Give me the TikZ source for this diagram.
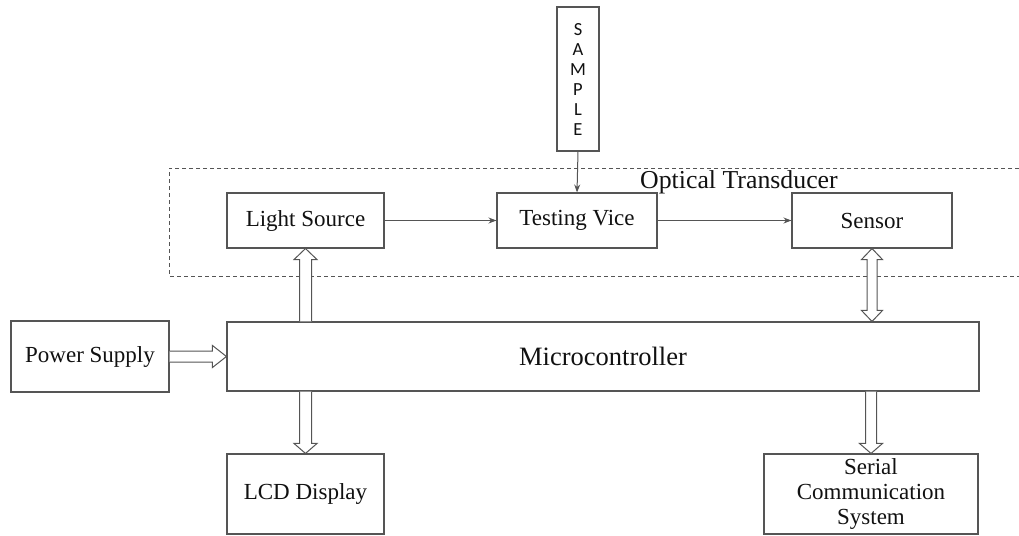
\documentclass[tikz,border=0pt]{standalone}
\usepackage{fontspec}
\setmainfont{Liberation Serif}
\newfontfamily\samplefont{Carlito}
\usetikzlibrary{calc,arrows.meta}
\definecolor{ln}{HTML}{555555}
\definecolor{tx}{HTML}{111111}
\tikzset{
  box/.style={draw=ln, line width=1.1pt, fill=white, inner sep=0pt, align=center, text=tx,
              font=\fontsize{23}{25}\selectfont},
  thin/.style={draw=ln, line width=1pt, -{Stealth[length=8pt,width=6pt]}},
  hollow/.style={draw=ln, line width=1pt, fill=white, line join=miter},
  dashbox/.style={draw=ln, line width=1pt, dash pattern=on 4pt off 3pt}
}
\begin{document}
\begin{tikzpicture}[x=1pt,y=-1pt]
\useasboundingbox (0,0) rectangle (1019,535);
% dashed optical transducer frame (open at right)
\draw[dashbox] (1019,168) -- (169,168) -- (169,276) -- (1019,276);
\node[anchor=base west, inner sep=0pt, text=tx, font=\fontsize{25.8}{28}\selectfont] (ot) at (640,188) {Optical Transducer};

\node[box, minimum width=42, minimum height=144, font=\samplefont\fontsize{18.5}{20}\selectfont] (sample) at (578,79) {S\\A\\M\\P\\L\\E};
\node[box, minimum width=157, minimum height=55] (light) at (305.5,220.5) {Light Source};
\node[box, minimum width=160, minimum height=55] (vice) at (577,220.5) {Testing Vice};
\node[box, minimum width=160, minimum height=55] (sensor) at (872,220.5) {Sensor};
\node[box, minimum width=158, minimum height=71] (power) at (90,356.5) {Power Supply};
\node[box, minimum width=752, minimum height=69, font=\fontsize{26.5}{30}\selectfont] (micro) at (603,356.5) {Microcontroller};
\node[box, minimum width=157, minimum height=80] (lcd) at (305.5,494) {LCD Display};
\node[box, minimum width=214, minimum height=80] (serial) at (871,494) {Serial\\Communication\\System};

% thin arrows
\draw[thin] (sample.south) -- (vice.north);
\draw[thin] (light.east) -- (vice.west);
\draw[thin] (vice.east) -- (sensor.west);

% hollow arrow: micro -> light
\coordinate (a1) at (light.south);
\coordinate (b1) at (a1 |- micro.north);
\draw[hollow] ($(b1)+(-6,0)$) -- ($(a1)+(-6,11)$) -- ($(a1)+(-11.5,11)$) -- (a1)
  -- ($(a1)+(11.5,11)$) -- ($(a1)+(6,11)$) -- ($(b1)+(6,0)$);

% hollow double arrow: sensor <-> micro
\coordinate (a2) at (sensor.south);
\coordinate (b2) at (a2 |- micro.north);
\draw[hollow] (a2) -- ($(a2)+(10.5,11)$) -- ($(a2)+(5,11)$) -- ($(b2)+(5,-11)$) -- ($(b2)+(10.5,-11)$)
  -- (b2) -- ($(b2)+(-10.5,-11)$) -- ($(b2)+(-5,-11)$) -- ($(a2)+(-5,11)$) -- ($(a2)+(-10.5,11)$) -- cycle;

% hollow arrow: power -> micro
\coordinate (a3) at (power.east);
\coordinate (b3) at (micro.west |- a3);
\draw[hollow] ($(a3)+(0,-5.5)$) -- ($(b3)+(-14,-5.5)$) -- ($(b3)+(-14,-11)$) -- (b3)
  -- ($(b3)+(-14,11)$) -- ($(b3)+(-14,5.5)$) -- ($(a3)+(0,5.5)$);

% hollow arrow: micro -> lcd
\coordinate (a4) at (lcd.north);
\coordinate (b4) at (a4 |- micro.south);
\draw[hollow] ($(b4)+(-6,0)$) -- ($(a4)+(-6,-10)$) -- ($(a4)+(-11.5,-10)$) -- (a4)
  -- ($(a4)+(11.5,-10)$) -- ($(a4)+(6,-10)$) -- ($(b4)+(6,0)$);

% hollow arrow: micro -> serial
\coordinate (a5) at (serial.north);
\coordinate (b5) at (a5 |- micro.south);
\draw[hollow] ($(b5)+(-5.5,0)$) -- ($(a5)+(-5.5,-10)$) -- ($(a5)+(-11.5,-10)$) -- (a5)
  -- ($(a5)+(11.5,-10)$) -- ($(a5)+(5.5,-10)$) -- ($(b5)+(5.5,0)$);
\end{tikzpicture}
\end{document}
